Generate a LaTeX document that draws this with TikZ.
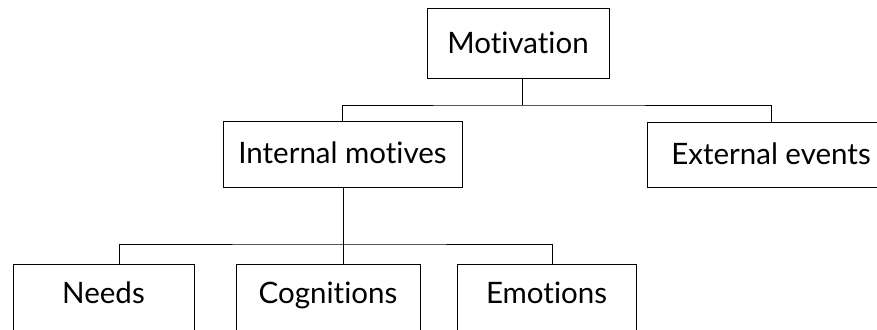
\documentclass[tikz,border=0pt]{standalone}
\usepackage{fontspec}
\setmainfont[Ligatures={NoCommon,NoDiscretionary,NoRare}]{Lato}
\begin{document}
\begin{tikzpicture}[x=1pt,y=-1pt,
  box/.style={draw=black, line width=1pt, rectangle, inner sep=0pt,
    text height=22pt, text depth=3pt, font=\fontsize{29.5}{32}\selectfont},
  lowbox/.style={box, text depth=20pt, minimum height=76pt},
  conn/.style={draw=black, line width=1pt}]
\useasboundingbox (0,0) rectangle (877,329);
\clip (0,0) rectangle (877,329);
\node[box, minimum width=182pt, minimum height=69pt] (mot) at (518,43.5) {Motivation};
\node[box, minimum width=239pt, minimum height=66pt] (int) at (342.5,154) {Internal motives};
\node[box, minimum width=248pt, minimum height=65pt] (ext) at (771,154.5) {External events};
\node[lowbox, minimum width=181pt] (needs) at (103.5,302) {Needs};
\node[lowbox, minimum width=184pt] (cog) at (328,302) {Cognitions};
\node[lowbox, minimum width=179pt] (emo) at (546.5,302) {Emotions};
\coordinate (j1) at (522,105);
\coordinate (j2) at (343,244);
\draw[conn] ([xshift=4pt]mot.south) -- (j1);
\draw[conn] (int.north) |- (j1) -| (ext.north);
\draw[conn] ([xshift=0.5pt]int.south) -- ([xshift=15pt]cog.north);
\draw[conn] ([xshift=15.5pt]needs.north) |- (j2) -| ([xshift=5.5pt]emo.north);
\end{tikzpicture}
\end{document}
